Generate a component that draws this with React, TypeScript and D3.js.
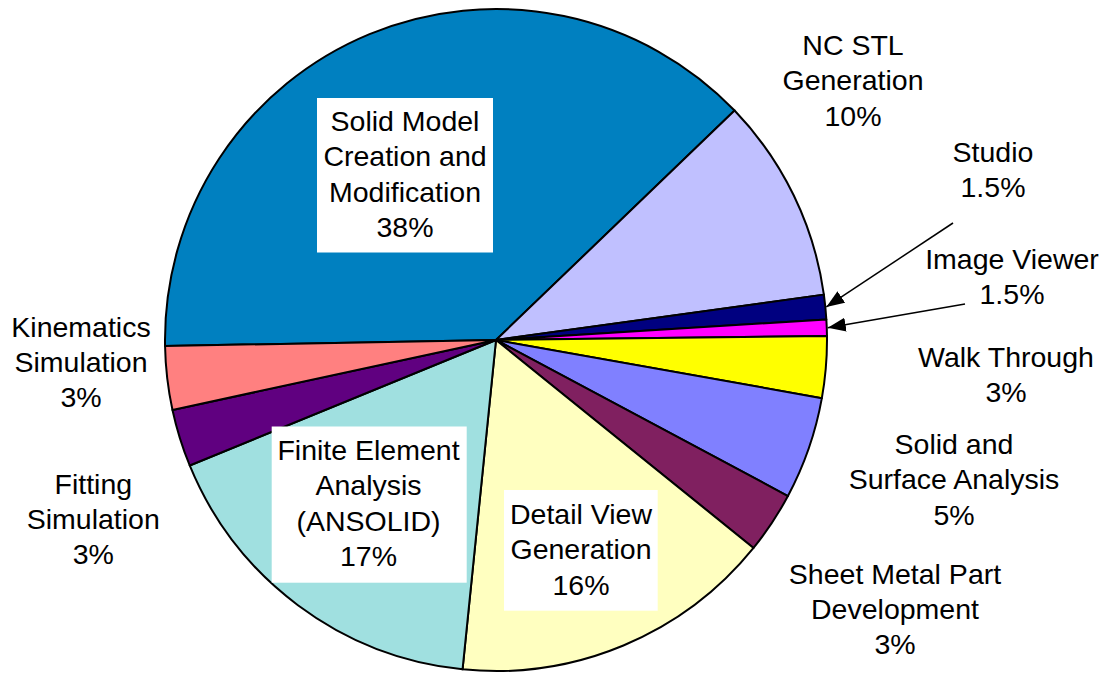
import React from "react";
import * as d3 from "d3";

const categories = [
  "Solid Model Creation and Modification",
  "NC STL Generation",
  "Studio",
  "Image Viewer",
  "Walk Through",
  "Solid and Surface Analysis",
  "Sheet Metal Part Development",
  "Detail View Generation",
  "Finite Element Analysis (ANSOLID)",
  "Fitting Simulation",
  "Kinematics Simulation",
];
const shares = [38.1, 10.0, 1.2, 0.8, 3.0, 5.0, 3.0, 15.8, 17.2, 2.8, 3.1];
const percentLabels = ["38%", "10%", "1.5%", "1.5%", "3%", "5%", "3%", "16%", "17%", "3%", "3%"];
const labelLines = [
  ["Solid Model", "Creation and", "Modification"],
  ["NC STL", "Generation"],
  ["Studio"],
  ["Image Viewer"],
  ["Walk Through"],
  ["Solid and", "Surface Analysis"],
  ["Sheet Metal Part", "Development"],
  ["Detail View", "Generation"],
  ["Finite Element", "Analysis", "(ANSOLID)"],
  ["Fitting", "Simulation"],
  ["Kinematics", "Simulation"],
];
const colors = [
  "#0080C0", "#C0C0FF", "#000080", "#FF00FF", "#FFFF00", "#8080FF",
  "#802060", "#FFFFC0", "#A0E0E0", "#600080", "#FF8080",
];

// layout
const W = 1116, H = 673;
const CX = 496, CY = 340, R = 331;
const START_DEG = -91.04;
const FONT = 28.5;
const LH = 35.3;

// label placement: x center, first baseline, optional white box, optional arrow start
const labelLayout: { x: number; y: number; box?: [number, number, number, number]; arrowFrom?: [number, number] }[] = [
  { x: 405, y: 131, box: [317, 98, 493, 252.5] },
  { x: 853, y: 55 },
  { x: 993, y: 161.7, arrowFrom: [953, 223] },
  { x: 1012, y: 268.5, arrowFrom: [965, 304] },
  { x: 1006, y: 366.7 },
  { x: 954, y: 454 },
  { x: 895, y: 583.5 },
  { x: 581, y: 524, box: [504, 490, 657.7, 610.7] },
  { x: 368.5, y: 460, box: [271.7, 426.5, 466.7, 582.7] },
  { x: 93.3, y: 493.5 },
  { x: 81, y: 336.7 },
];

export default function App() {
  const rad = Math.PI / 180;
  const pie = d3
    .pie<number>()
    .sort(null)
    .value((d) => d)
    .startAngle(START_DEG * rad)
    .endAngle(START_DEG * rad + 2 * Math.PI);
  const arcs = pie(shares);
  const arcGen = d3.arc<d3.PieArcDatum<number>>().innerRadius(0).outerRadius(R);

  return (
    <svg
      width={W}
      height={H}
      style={{ position: "absolute", left: 0, top: 0, background: "#fff" }}
      fontFamily="'Liberation Sans', Arial, sans-serif"
    >
      <defs>
        <marker
          id="arrowhead"
          markerUnits="userSpaceOnUse"
          markerWidth={20}
          markerHeight={16}
          refX={18}
          refY={7}
          orient="auto"
        >
          <path d="M0,0 L18,7 L0,14 Z" fill="#000" />
        </marker>
      </defs>
      <rect x={0} y={0} width={W} height={H} fill="#fff" />
      <g transform={`translate(${CX},${CY})`}>
        {arcs.map((a, i) => (
          <path
            key={categories[i]}
            d={arcGen(a) || ""}
            fill={colors[i]}
            stroke="#000"
            strokeWidth={2}
            strokeLinejoin="round"
          />
        ))}
      </g>
      {arcs.map((a, i) => {
        const L = labelLayout[i];
        const lines = [...labelLines[i], percentLabels[i]];
        let arrow = null;
        if (L.arrowFrom) {
          const mid = (a.startAngle + a.endAngle) / 2;
          const tx = CX + (R + 1) * Math.sin(mid);
          const ty = CY - (R + 1) * Math.cos(mid);
          arrow = (
            <line
              x1={L.arrowFrom[0]}
              y1={L.arrowFrom[1]}
              x2={tx}
              y2={ty}
              stroke="#000"
              strokeWidth={1.5}
              markerEnd="url(#arrowhead)"
            />
          );
        }
        return (
          <g key={"lab" + i}>
            {L.box && (
              <rect
                x={L.box[0]}
                y={L.box[1]}
                width={L.box[2] - L.box[0]}
                height={L.box[3] - L.box[1]}
                fill="#fff"
              />
            )}
            {lines.map((t, j) => (
              <text
                key={j}
                x={L.x}
                y={L.y + j * LH}
                textAnchor="middle"
                fontSize={FONT}
                fill="#000"
              >
                {t}
              </text>
            ))}
            {arrow}
          </g>
        );
      })}
    </svg>
  );
}
